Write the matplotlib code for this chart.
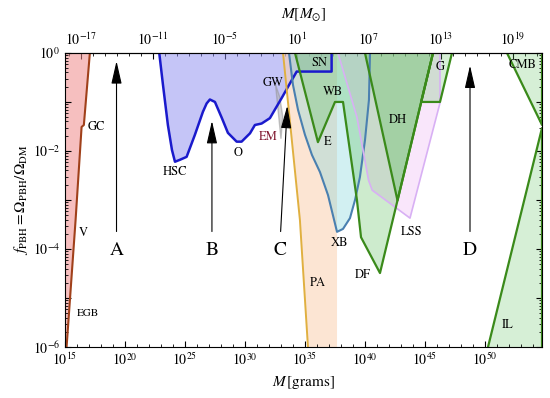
import numpy as np
import matplotlib.pyplot as plt
from matplotlib.ticker import FixedLocator, FuncFormatter, NullFormatter, LogLocator

plt.rcParams['font.family'] = 'STIXGeneral'
plt.rcParams['mathtext.fontset'] = 'stix'

# all values are log10(M / grams), log10(f_PBH)
evap_x = [15.14, 15.89, 16.39, 16.58, 17.08]
evap_y = [-6.0, -3.41, -1.51, -1.47, 0.0]

lens_x = [22.86, 23.17, 23.58, 23.92, 24.17, 24.58, 25.14, 25.83, 26.5, 26.81, 27.08, 27.5, 28.08,
          28.58, 29.31, 29.72, 30.42, 30.83, 31.39, 32.08, 32.58, 33.06, 33.75, 34.31, 37.22, 37.22]
lens_y = [0.0, -0.65, -1.47, -1.98, -2.22, -2.18, -2.12, -1.67, -1.2, -1.03, -0.95, -1.0, -1.33,
          -1.63, -1.81, -1.81, -1.64, -1.47, -1.44, -1.33, -1.12, -0.92, -0.62, -0.38, -0.38, 0.0]

gw_x = [32.55, 33.0, 33.15, 32.9]
gw_y = [-0.65, -1.75, -1.3, -0.9]

pa_x = [33.17, 34.58, 35.25]
pa_y = [0.0, -3.41, -6.0]
pa_right = 37.67

xb_x = [33.67, 34.0, 34.42, 35.0, 35.58, 36.25, 36.92, 37.33, 37.67, 38.17, 38.75, 39.17, 39.58,
        40.0, 40.33, 40.42]
xb_y = [0.0, -0.65, -1.16, -1.67, -2.08, -2.43, -2.9, -3.31, -3.65, -3.59, -3.37, -3.0, -2.53,
        -1.78, -0.96, 0.0]

lss_x = [37.75, 39.33, 40.3, 40.6, 43.75, 46.25, 46.25]
lss_y = [0.0, -1.31, -2.6, -2.8, -3.37, -1.02, 0.0]

dyn_x = [34.17, 36.08, 37.5, 38.17, 39.33, 39.67, 41.25, 45.67]
dyn_y = [0.0, -1.82, -1.0, -1.0, -3.0, -3.76, -4.49, 0.0]

dh_x = [40.0, 42.71, 45.67]
dh_y = [0.0, -3.01, 0.0]

g_x = [45.67, 44.67, 46.25, 47.25]
g_y = [0.0, -1.0, -1.0, 0.0]

cmb_x = [51.83, 54.75, 54.75]
cmb_y = [0.0, -1.47, 0.0]

il_x = [50.25, 54.75, 54.75]
il_y = [-6.0, -1.53, -6.0]

arrow_names = ['A', 'B', 'C', 'D']
arrow_tip_x = [19.3, 27.25, 33.54, 48.75]
arrow_tip_y = [-0.11, -1.33, -1.02, -0.2]
arrow_tail_x = [19.3, 27.25, 32.96, 48.75]
arrow_tail_y = [-3.7, -3.7, -3.7, -3.7]

labels = ['GC', 'V', 'EGB', 'HSC', 'O', 'EM', 'GW', 'SN', 'WB', 'E', 'DH', 'G', 'CMB',
          'XB', 'LSS', 'DF', 'PA', 'IL']
label_x = [17.64, 16.5, 16.94, 24.17, 29.42, 31.92, 32.3, 36.25, 37.33, 36.92, 42.75, 46.25, 53.1,
           37.92, 43.92, 39.83, 36.08, 51.92]
label_y = [-1.52, -3.68, -5.31, -2.43, -2.04, -1.71, -0.61, -0.2, -0.8, -1.82, -1.37, -0.29, -0.24,
           -3.88, -3.65, -4.53, -4.69, -5.55]

M_SUN = 2e33


def P(xs, ys):
    return 10.0 ** np.array(xs), 10.0 ** np.array(ys)


fig, ax = plt.subplots(figsize=(5.5, 3.98), dpi=100)
fig.subplots_adjust(left=0.118, right=0.9855, bottom=0.128, top=0.867)

# evaporation
x, y = P([15.0] + evap_x + [15.0], [-6.0] + evap_y + [0.0])
ax.fill(x, y, color='#f08c8c', alpha=0.55, lw=0)
ax.plot(*P(evap_x, evap_y), color='#a0401a', lw=1.5)

# lensing
x, y = P(lens_x, lens_y)
ax.fill(x, y, color='#8c8cf0', alpha=0.5, lw=0)
ax.plot(x, y, color='#1a1acc', lw=1.8)

# GW
x, y = P(gw_x, gw_y)
ax.fill(x, y, color='#b0b0b0', alpha=0.5, edgecolor='#909090', lw=1)

# Planck accretion
x, y = P(pa_x + [pa_right, pa_right], pa_y + [-6.0, 0.0])
ax.fill(x, y, color='#fbd0b0', alpha=0.55, lw=0)
ax.plot(*P(pa_x, pa_y), color='#e0b040', lw=1.4)

# X-ray binaries
x, y = P(xb_x, xb_y)
ax.fill(x, y, color='#7ed6dc', alpha=0.35, lw=0)
ax.plot(x, y, color='#4a80b0', lw=1.5)

# LSS
x, y = P(lss_x, lss_y)
ax.fill(x, y, color='#f0b8f4', alpha=0.35, lw=0)
ax.plot(x, y, color='#d8b0f4', lw=1.2)

# dynamical
for xs, ys, a in [(dyn_x, dyn_y, 0.3), (dh_x, dh_y, 0.35), (g_x, g_y, 0.25),
                  (cmb_x, cmb_y, 0.25), (il_x, il_y, 0.25)]:
    x, y = P(xs, ys)
    ax.fill(x, y, color='#5cc05c', alpha=a, lw=0)
    ax.plot(x, y, color='#3a8a1a', lw=1.6)

for name, tx, ty, sx, sy in zip(arrow_names, arrow_tip_x, arrow_tip_y, arrow_tail_x, arrow_tail_y):
    ax.annotate('', xy=(10 ** tx, 10 ** ty), xytext=(10 ** sx, 10 ** sy),
                arrowprops=dict(arrowstyle='-|>,head_length=1.4,head_width=0.32',
                                color='black', lw=0.8, mutation_scale=10))
    ax.text(10 ** sx, 10 ** -4.02, name, fontsize=14, ha='center', va='center')

for t, lx, ly in zip(labels, label_x, label_y):
    ax.text(10 ** lx, 10 ** ly, t, fontsize=8 if t == 'EGB' else 9,
            color='#801830' if t == 'EM' else 'black', ha='center', va='center')

ax.set_xscale('log')
ax.set_yscale('log')
ax.set_xlim(1e15, 10 ** 54.75)
ax.set_ylim(1e-6, 1)


def pow_fmt(v, pos):
    return r'$10^{%d}$' % round(np.log10(v))


ax.xaxis.set_major_locator(FixedLocator([10.0 ** k for k in range(15, 55, 5)]))
ax.xaxis.set_minor_locator(FixedLocator([10.0 ** k for k in range(15, 56)]))
ax.xaxis.set_major_formatter(FuncFormatter(pow_fmt))
ax.xaxis.set_minor_formatter(NullFormatter())

ax.yaxis.set_major_locator(FixedLocator([10.0 ** k for k in range(-6, 1)]))
ax.yaxis.set_minor_locator(LogLocator(base=10, subs=np.arange(2, 10), numticks=20))
ax.yaxis.set_major_formatter(FuncFormatter(
    lambda v, p: pow_fmt(v, p) if round(np.log10(v)) % 2 == 0 else ''))
ax.yaxis.set_minor_formatter(NullFormatter())

ax.tick_params(which='both', direction='in', top=False, right=True, labelsize=10)
ax.tick_params(which='major', length=4)
ax.tick_params(which='minor', length=2.5)

sec = ax.secondary_xaxis('top', functions=(lambda m: m / M_SUN, lambda m: m * M_SUN))
sec.xaxis.set_major_locator(FixedLocator([10.0 ** k for k in range(-17, 22, 6)]))
sec.xaxis.set_minor_locator(FixedLocator([10.0 ** k for k in range(-18, 23)]))
sec.xaxis.set_major_formatter(FuncFormatter(pow_fmt))
sec.xaxis.set_minor_formatter(NullFormatter())
sec.tick_params(which='both', direction='in', labelsize=10)
sec.tick_params(which='major', length=4)
sec.tick_params(which='minor', length=2.5)
sec.set_xlabel(r'$M[M_{\odot}]$', fontsize=11, labelpad=10)

ax.set_xlabel(r'$M\,$[grams]', fontsize=11, labelpad=4)
ax.set_ylabel(r'$f_{\rm PBH}=\Omega_{\rm PBH}/\Omega_{\rm DM}$', fontsize=11, labelpad=2)

fig.savefig('out.png', dpi=100)
